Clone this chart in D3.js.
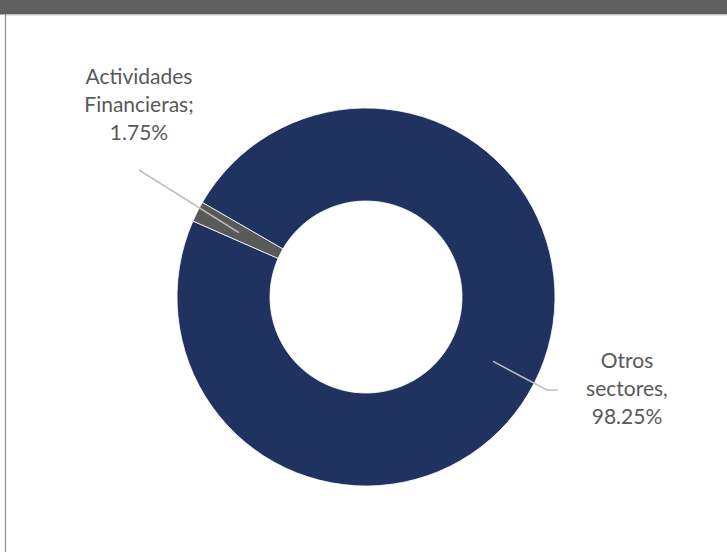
<!DOCTYPE html>
<html>
<head>
<meta charset="utf-8">
<script src="https://cdn.jsdelivr.net/npm/d3@7"></script>
<style>
  body { margin: 0; background: #fff; }
  svg { display: block; }
</style>
</head>
<body>
<svg id="chart" width="727" height="552"></svg>
<script>
// data
const categories = ["Otros sectores", "Actividades Financieras"];
const values = [98.25, 1.75];
const labelLines = [["Otros", "sectores,", "98.25%"], ["Actividades", "Financieras;", "1.75%"]];
const colors = ["#203360", "#595959"];

const svg = d3.select("#chart");
const width = +svg.attr("width");
const height = +svg.attr("height");

// frame: dark header band + thin left border
svg.append("rect").attr("x", 0).attr("y", 0).attr("width", width).attr("height", 14.5).attr("fill", "#5f605f");
svg.append("line").attr("x1", 6).attr("x2", width).attr("y1", 15).attr("y2", 15)
  .attr("stroke", "#d0d0d0").attr("stroke-width", 1);
svg.append("line").attr("x1", 5.5).attr("x2", 5.5).attr("y1", 14).attr("y2", height)
  .attr("stroke", "#8c8c8c").attr("stroke-width", 1.2);

const cx = 366, cy = 297;
const outerR = 189, innerR = 96;

const g = svg.append("g").attr("transform", `translate(${cx}, ${cy})`);

const pie = d3.pie().sort(null).value(d => d.value)
  .startAngle(-60 * Math.PI / 180).endAngle(300 * Math.PI / 180);
const arc = d3.arc().outerRadius(outerR).innerRadius(innerR);

const data = categories.map((c, i) => ({ name: c, value: values[i], lines: labelLines[i], color: colors[i] }));
const arcs = pie(data);

g.selectAll(".slice").data(arcs).enter().append("path")
  .attr("class", "slice")
  .attr("d", arc)
  .attr("fill", d => d.data.color)
  .attr("stroke", "#ffffff")
  .attr("stroke-width", 0.8);

// leader lines start at slice centroids
const layout = [
  { pts: r => [[r * 0.889, r * 0.457], [r * 0.889 + 11, r * 0.457]], r: 203.5, text: [261, 71.3] },
  { pts: r => [[-227, -127]], r: 0, text: [-227, -212.7] }
];

arcs.forEach((d, i) => {
  const c = arc.centroid(d);
  const pts = [c].concat(layout[i].pts(layout[i].r));
  g.append("path")
    .attr("d", d3.line()(pts))
    .attr("fill", "none")
    .attr("stroke", "#bfbfbf")
    .attr("stroke-width", 1.5);

  const t = g.append("text")
    .attr("x", layout[i].text[0])
    .attr("y", layout[i].text[1])
    .attr("text-anchor", "middle")
    .attr("font-family", "Lato, sans-serif")
    .attr("font-size", 21)
    .attr("fill", "#595959");
  d.data.lines.forEach((l, j) => {
    t.append("tspan").attr("x", layout[i].text[0]).attr("dy", j === 0 ? 0 : 28).text(l);
  });
});
</script>
</body>
</html>
